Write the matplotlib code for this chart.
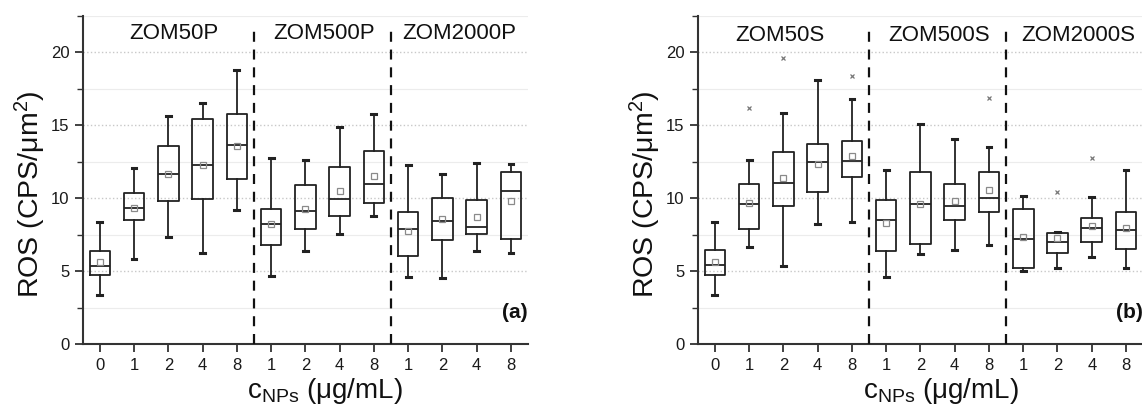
import matplotlib
matplotlib.use('Agg')
import matplotlib.pyplot as plt
from matplotlib.ticker import MultipleLocator

plt.rcParams['font.family'] = ['Liberation Sans', 'DejaVu Sans']
plt.rcParams['mathtext.fontset'] = 'custom'
plt.rcParams['mathtext.rm'] = 'Liberation Sans'
plt.rcParams['mathtext.it'] = 'Liberation Sans:italic'
plt.rcParams['mathtext.bf'] = 'Liberation Sans:bold'

# ---------------- data ----------------
tick_labels = ['0', '1', '2', '4', '8', '1', '2', '4', '8', '1', '2', '4', '8']
groups_a = ['ZOM50P', 'ZOM500P', 'ZOM2000P']
groups_b = ['ZOM50S', 'ZOM500S', 'ZOM2000S']

# panel (a)
a_whislo = [3.38, 5.87, 7.37, 6.23, 9.22, 4.66, 6.37, 7.56, 8.81, 4.60, 4.51, 6.40, 6.22]
a_q1     = [4.73, 8.52, 9.79, 9.93, 11.32, 6.83, 7.92, 8.79, 9.68, 6.02, 7.11, 7.52, 7.18]
a_med    = [5.39, 9.34, 11.64, 12.28, 13.61, 8.22, 9.09, 9.95, 10.98, 7.92, 8.46, 8.02, 10.51]
a_q3     = [6.42, 10.37, 13.56, 15.39, 15.78, 9.29, 10.87, 12.15, 13.20, 9.07, 10.03, 9.89, 11.78]
a_whishi = [8.36, 12.05, 15.60, 16.50, 18.74, 12.74, 12.63, 14.90, 15.75, 12.24, 11.65, 12.38, 12.31]
a_mean   = [5.62, 9.32, 11.64, 12.28, 13.60, 8.22, 9.29, 10.50, 11.53, 7.75, 8.55, 8.71, 9.80]
a_fliers = [[], [], [], [], [], [], [], [], [], [], [], [], []]

# panel (b)
b_whislo = [3.40, 6.68, 5.33, 8.25, 8.34, 4.60, 6.18, 6.47, 6.77, 4.99, 5.22, 5.97, 5.24]
b_q1     = [4.74, 7.86, 9.48, 10.44, 11.47, 6.36, 6.88, 8.48, 9.07, 5.24, 6.22, 6.98, 6.52]
b_med    = [5.40, 9.60, 11.01, 12.45, 12.56, 8.48, 9.60, 9.46, 10.00, 7.23, 6.98, 7.96, 7.80]
b_q3     = [6.43, 10.96, 13.18, 13.70, 13.90, 9.89, 11.81, 10.94, 11.76, 9.25, 7.64, 8.64, 9.07]
b_whishi = [8.37, 12.60, 15.80, 18.08, 16.80, 11.92, 15.11, 14.06, 13.52, 10.12, 7.68, 10.10, 11.90]
b_mean   = [5.63, 9.66, 11.37, 12.31, 12.86, 8.32, 9.60, 9.78, 10.55, 7.36, 7.29, 8.12, 7.93]
b_fliers = [[], [16.14], [19.60], [], [18.35], [], [], [], [16.87], [], [10.42], [12.72], []]

# ---------------- figure ----------------
fig = plt.figure(figsize=(11.42, 4.08), dpi=100)
ax_a = fig.add_axes([0.0724, 0.156, 0.390, 0.806])
ax_b = fig.add_axes([0.611, 0.156, 0.390, 0.806])

edge = '#222222'


def draw(ax, whislo, q1, med, q3, whishi, mean, fliers, groups, group_x, group_y, tag):
    stats = []
    for i in range(len(med)):
        stats.append(dict(whislo=whislo[i], q1=q1[i], med=med[i], q3=q3[i],
                          whishi=whishi[i], mean=mean[i], fliers=fliers[i]))
    positions = list(range(1, len(med) + 1))
    ax.bxp(stats, positions=positions, widths=0.6, capwidths=0.14,
           showmeans=True, showfliers=True, patch_artist=False,
           boxprops=dict(color=edge, linewidth=1.3),
           whiskerprops=dict(color=edge, linewidth=1.3),
           capprops=dict(color=edge, linewidth=2.2),
           medianprops=dict(color=edge, linewidth=1.3),
           meanprops=dict(marker='s', markersize=4.5, markerfacecolor='none',
                          markeredgecolor='#8a8a8a', markeredgewidth=0.9),
           flierprops=dict(marker='x', markersize=3.5, markeredgecolor='#777777',
                           markeredgewidth=0.9, linestyle='none'))
    ax.set_xlim(0.5, 13.5)
    ax.set_ylim(0, 22.5)
    ax.set_xticks(positions)
    ax.set_xticklabels(tick_labels)
    ax.yaxis.set_major_locator(MultipleLocator(5))
    ax.yaxis.set_minor_locator(MultipleLocator(2.5))
    ax.grid(axis='y', which='major', color='#c8c8c8', linestyle=':', linewidth=1.0)
    ax.grid(axis='y', which='minor', color='#ececec', linestyle='-', linewidth=0.8)
    ax.set_axisbelow(True)
    for s in ['top', 'right']:
        ax.spines[s].set_visible(False)
    for s in ['left', 'bottom']:
        ax.spines[s].set_color('#333333')
        ax.spines[s].set_linewidth(1.5)
    ax.tick_params(axis='both', which='major', direction='out', length=6, width=1.3,
                   color='#333333', labelsize=12, labelcolor='#1a1a1a')
    ax.tick_params(axis='y', which='minor', direction='out', length=4, width=1.0,
                   color='#333333')
    for xv in (5.5, 9.5):
        ax.plot([xv, xv], [0, 21.9], color='#111111', linestyle=(0, (4.5, 3.5)),
                linewidth=1.6, zorder=3)
    for g, gx in zip(groups, group_x):
        ax.text(gx, group_y, g, ha='center', va='center', fontsize=16, color='#111111')
    ax.text(13.5, 2.15, tag, ha='right', va='center', fontsize=15, fontweight='bold',
            color='#111111')
    ax.set_ylabel('ROS (CPS/$\\mathregular{\\mu}$m$^\\mathregular{2}$)', fontsize=20.5,
                  color='#111111')
    ax.yaxis.set_label_coords(-0.077, 0.457)
    ax.text(0.545, -0.142, 'c$_\\mathregular{NPs}$ ($\\mathregular{\\mu}$g/mL)',
            transform=ax.transAxes, ha='center', va='center', fontsize=20, color='#111111')


draw(ax_a, a_whislo, a_q1, a_med, a_q3, a_whishi, a_mean, a_fliers,
     groups_a, [3.15, 7.55, 11.5], 21.3, '(a)')
draw(ax_b, b_whislo, b_q1, b_med, b_q3, b_whishi, b_mean, b_fliers,
     groups_b, [2.9, 7.55, 11.6], 21.1, '(b)')

fig.savefig('out.png', dpi=100)
